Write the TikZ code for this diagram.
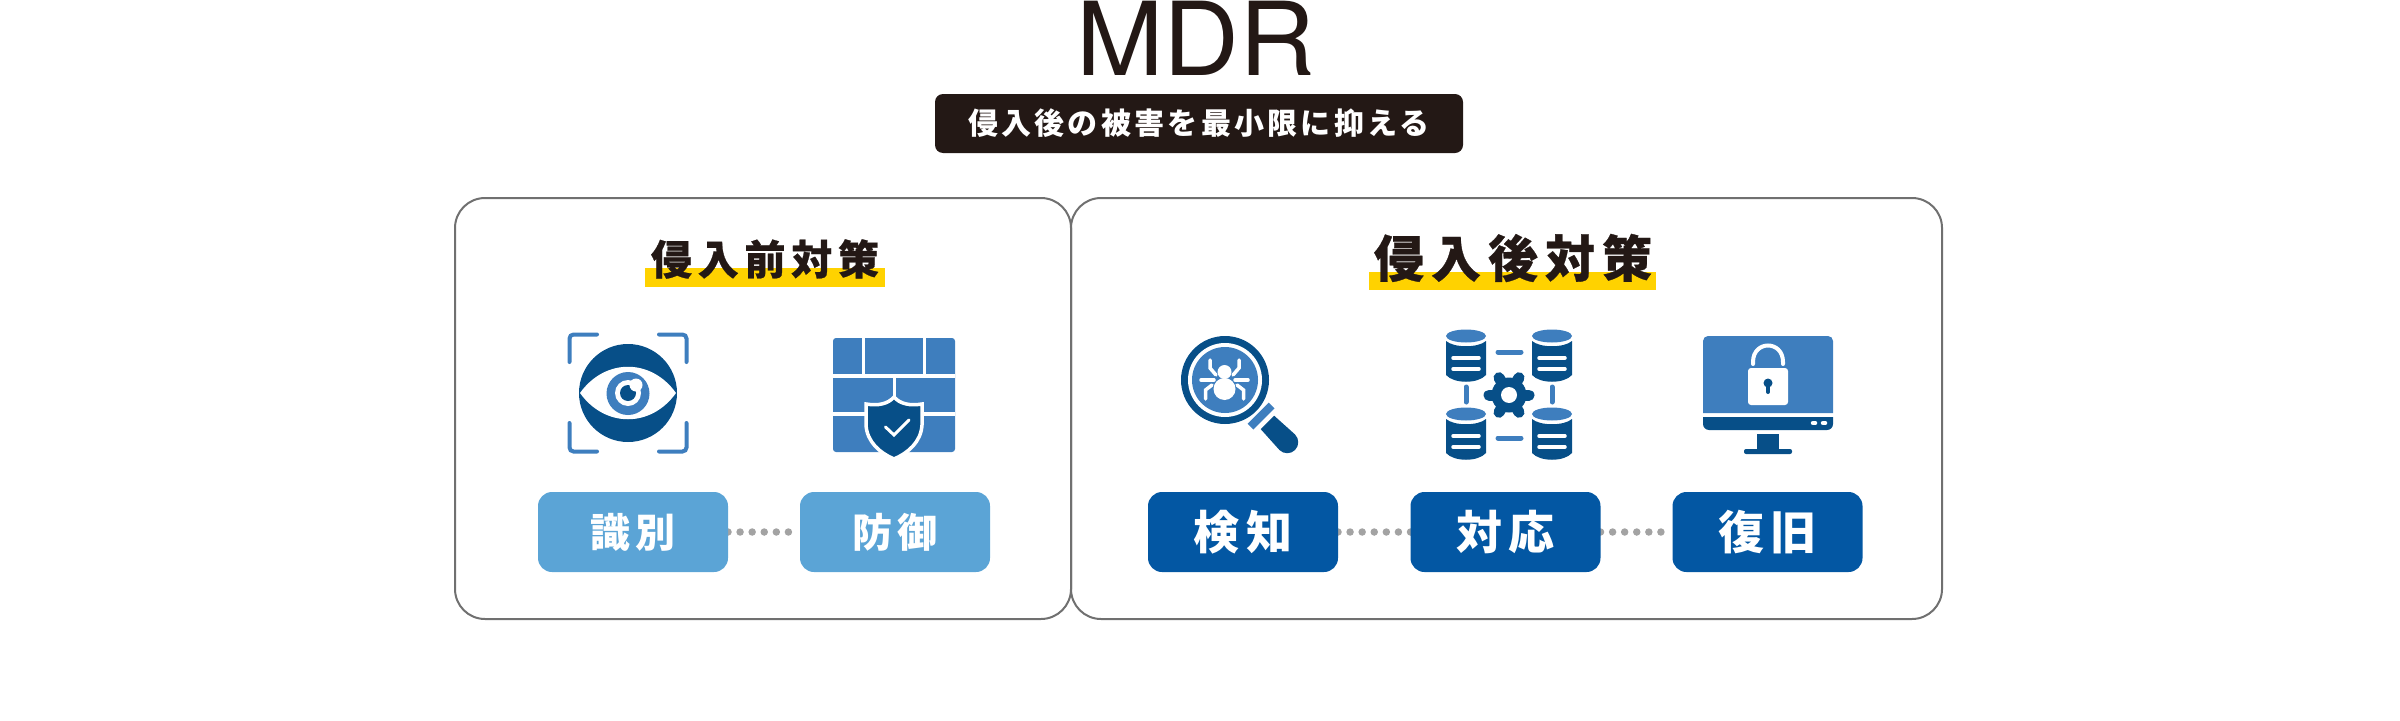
\documentclass[tikz,border=0pt]{standalone}
\usepackage{fontspec}
\usetikzlibrary{backgrounds}
\setmainfont{TeX Gyre Heros}
\newfontfamily\cjk{Noto Sans CJK JP}
\definecolor{inkblack}{HTML}{231815}
\definecolor{markeryellow}{HTML}{FFD200}
\definecolor{panelgray}{HTML}{707070}
\definecolor{dotgray}{HTML}{A3A3A3}
\definecolor{boxlight}{HTML}{5BA4D6}
\definecolor{boxdark}{HTML}{0357A3}
\definecolor{icondark}{HTML}{074F88}
\definecolor{iconlight}{HTML}{3E7EBE}
\tikzset{
  panelbox/.style={draw=panelgray, line width=2pt, rounded corners=30pt, inner sep=0pt, outer sep=0pt},
  stepbox/.style={rounded corners=14pt, inner sep=0pt, outer sep=0pt, minimum width=190pt, minimum height=80pt, text=white},
  dotline/.style={dotgray, line width=7.5pt, line cap=round, dash pattern=on 0pt off 12.08pt},
  iconline/.style={iconlight, line width=4pt, line cap=round, rounded corners=4pt},
  whiteline/.style={white, line width=4pt, line cap=round}
}

\begin{document}
\begin{tikzpicture}[x=1pt, y=-1pt]
  \useasboundingbox (0,0) rectangle (2400,720);

  % heading
  \node[inner sep=0pt, anchor=base, text=inkblack, xscale=1.03, transform shape, font=\fontsize{102}{102}\selectfont] (mdr) at (1196,75.5) {MDR};
  \node[fill=inkblack, rounded corners=8pt, minimum width=528pt, minimum height=59pt, inner sep=0pt, text=white,
    font=\cjk\bfseries\fontsize{30}{30}\selectfont\addfontfeature{LetterSpace=11}] (banner) at (1199,123.5) {侵入後の被害を最小限に抑える};

  % panels
  \node[panelbox, minimum width=616pt, minimum height=421pt] (leftpanel) at (763,408.5) {};
  \node[panelbox, minimum width=871pt, minimum height=421pt] (rightpanel) at (1506.5,408.5) {};

  % panel titles
  \fill[markeryellow] (645,268) rectangle (885,287);
  \fill[markeryellow] (1369,272) rectangle (1656,290);
  \node[inner sep=0pt, text=inkblack, font=\cjk\bfseries\fontsize{41}{41}\selectfont\addfontfeature{LetterSpace=14,FakeBold=0.6}] (lefttitle) at (765,259) {侵入前対策};
  \node[inner sep=0pt, text=inkblack, font=\cjk\bfseries\fontsize{50}{50}\selectfont\addfontfeature{LetterSpace=14,FakeBold=0.6}] (righttitle) at (1513,258) {侵入後対策};

  % steps
  \node[stepbox, fill=boxlight, font=\cjk\bfseries\fontsize{40}{40}\selectfont\addfontfeature{LetterSpace=12}] (identify) at (633,532) {識別};
  \node[stepbox, fill=boxlight, font=\cjk\bfseries\fontsize{40}{40}\selectfont\addfontfeature{LetterSpace=12}] (protect) at (895,532) {防御};
  \node[stepbox, fill=boxdark, font=\cjk\bfseries\fontsize{46}{46}\selectfont\addfontfeature{LetterSpace=15}] (detect) at (1243,532) {検知};
  \node[stepbox, fill=boxdark, font=\cjk\bfseries\fontsize{46}{46}\selectfont\addfontfeature{LetterSpace=15}] (respond) at (1505.5,532) {対応};
  \node[stepbox, fill=boxdark, font=\cjk\bfseries\fontsize{46}{46}\selectfont\addfontfeature{LetterSpace=15}] (recover) at (1767.5,532) {復旧};

  \begin{scope}[on background layer]
    \draw[dotline] (identify) -- (protect);
    \draw[dotline] (detect) -- (respond);
    \draw[dotline] (respond) -- (recover);
  \end{scope}

  % eye
  \draw[iconline] (597,334.5) -- (569.5,334.5) -- (569.5,362);
  \draw[iconline] (659,334.5) -- (686.5,334.5) -- (686.5,362);
  \draw[iconline] (597,451.5) -- (569.5,451.5) -- (569.5,423);
  \draw[iconline] (659,451.5) -- (686.5,451.5) -- (686.5,423);
  \fill[icondark] (628,393) circle (49pt);
  \fill[white] (580,393) .. controls (605,358) and (651,358) .. (676,393) .. controls (651,428) and (605,428) .. (580,393);
  \fill[iconlight] (628,393.5) circle (21.5pt);
  \fill[white] (628,393) circle (13pt);
  \fill[icondark] (628,393) circle (8pt);
  \fill[white] (636,385) circle (6.5pt);

  % firewall
  \fill[iconlight, rounded corners=3pt] (833,338) rectangle (955,452);
  \draw[white, line width=3.5pt] (833,376) -- (955,376);
  \draw[white, line width=3.5pt] (833,414) -- (955,414);
  \draw[white, line width=3.5pt] (863.7,338) -- (863.7,376);
  \draw[white, line width=3.5pt] (924.5,338) -- (924.5,376);
  \draw[white, line width=3.5pt] (894.5,376) -- (894.5,414);
  \filldraw[fill=icondark, draw=white, line width=3.5pt] (894,397) .. controls (888,404) and (878,406) .. (866,404) -- (866,425) .. controls (867,442) and (880,453) .. (894,459)
    .. controls (908,453) and (921,442) .. (922,425) -- (922,404) .. controls (910,406) and (900,404) .. (894,397) -- cycle;
  \draw[white, line width=3pt, line cap=round] (885.5,427) -- (894,435) -- (909,420);

  % magnifier with bug
  \fill[icondark] (1225,380) circle (44pt);
  \fill[white] (1225,380) circle (37pt);
  \fill[iconlight] (1225,380) circle (33pt);
  \begin{scope}[shift={(1225,380)}, rotate=-45]
    \fill[iconlight] (47,-15) rectangle (55,15);
    \fill[icondark] (60,-9.5) -- (88,-11) arc (-90:90:11) -- (60,9.5) -- cycle;
  \end{scope}
  \fill[white] (1224.5,372) circle (7pt);
  \fill[white] (1224.5,389) circle (11pt);
  \foreach \side in {-1,1} {
    \draw[white, line width=3.5pt, line cap=round] (1224.5+\side*14.5,360) -- (1224.5+\side*14.5,368) -- (1224.5+\side*8.5,375);
    \draw[white, line width=3.5pt, line cap=round] (1224.5+\side*23.5,380) -- (1224.5+\side*10.5,380);
    \draw[white, line width=3.5pt, line cap=round] (1224.5+\side*19,399) -- (1224.5+\side*19,390) -- (1224.5+\side*12.5,385);
  }

  % databases and gear
  \foreach \dbx/\dby in {1466/336, 1552/336, 1466/414, 1552/414} {
    \fill[iconlight] (\dbx,\dby) ellipse (20pt and 6.5pt);
    \fill[icondark] (\dbx-20,\dby+5) .. controls (\dbx-12,\dby+12) and (\dbx+12,\dby+12) .. (\dbx+20,\dby+5) -- (\dbx+20,\dby+39)
      .. controls (\dbx+12,\dby+48) and (\dbx-12,\dby+48) .. (\dbx-20,\dby+39) -- cycle;
    \draw[whiteline, line width=3.5pt] (\dbx-13,\dby+22) -- (\dbx+13,\dby+22);
    \draw[whiteline, line width=3.5pt] (\dbx-13,\dby+33) -- (\dbx+13,\dby+33);
  }
  \draw[iconlight, line width=5pt, line cap=round] (1498,352) -- (1521,352);
  \draw[iconlight, line width=5pt, line cap=round] (1498,438) -- (1521,438);
  \draw[iconlight, line width=5pt, line cap=round] (1466,387) -- (1466,402);
  \draw[iconlight, line width=5pt, line cap=round] (1552,387) -- (1552,402);
  \fill[icondark] (1509,395) circle (17.5pt);
  \foreach \ang in {0,60,120} {
    \draw[icondark, line width=11pt, line cap=round] (1509,395) ++(\ang:20) -- ++(\ang+180:40);
  }
  \fill[white] (1509,395) circle (8pt);

  % monitor with lock
  \fill[iconlight, rounded corners=5pt] (1703,413) -- (1703,336) -- (1833,336) [sharp corners] -- (1833,413) -- cycle;
  \fill[icondark, rounded corners=6pt] (1703,417) [sharp corners] -- (1833,417) [rounded corners=6pt] -- (1833,430) -- (1703,430) [sharp corners] -- cycle;
  \draw[white, line width=4.5pt, line cap=round] (1813,423) -- (1815,423);
  \draw[white, line width=4.5pt, line cap=round] (1823,423) -- (1825,423);
  \fill[icondark] (1757,434) rectangle (1779,450);
  \fill[icondark, rounded corners=2pt] (1744,449) rectangle (1792,454);
  \fill[white, rounded corners=3pt] (1748,368) rectangle (1788,405);
  \draw[white, line width=4pt, line cap=round] (1753,364) -- (1753,362) .. controls (1753,340) and (1783,340) .. (1783,362) -- (1783,364);
  \fill[icondark] (1768,383) circle (4.5pt);
  \draw[icondark, line width=4pt, line cap=round] (1768,384) -- (1768,392);
\end{tikzpicture}
\end{document}
